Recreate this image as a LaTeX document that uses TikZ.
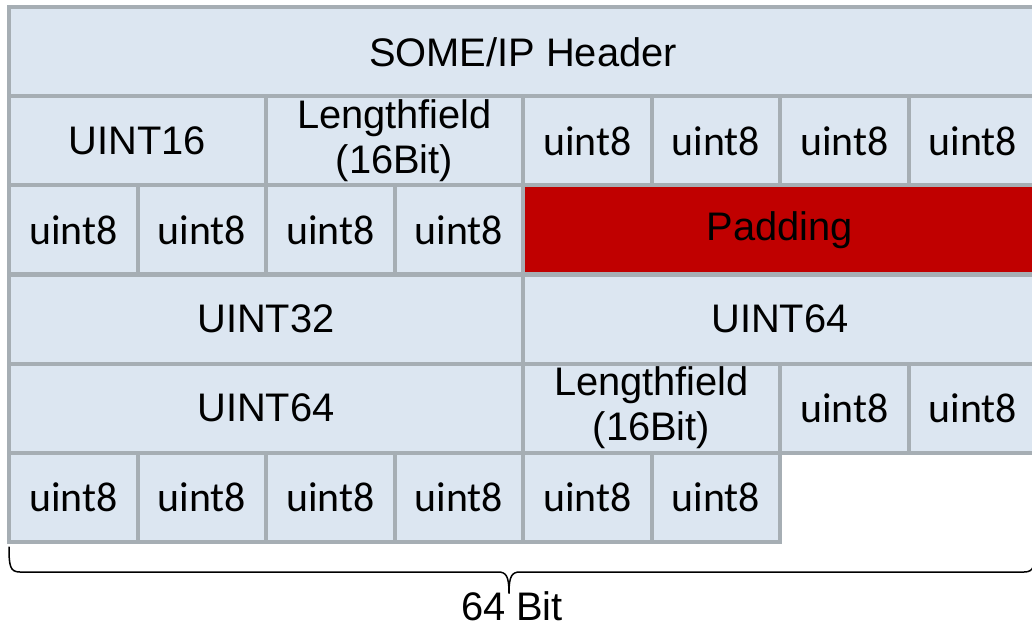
\documentclass[tikz,border=0pt]{standalone}
\usepackage{fontspec}
\setmainfont{Liberation Sans}
\newfontfamily\calfont{Carlito}
\definecolor{cellfill}{RGB}{220,230,241}
\definecolor{cellborder}{RGB}{166,174,180}
\definecolor{padred}{RGB}{192,0,0}
\begin{document}
\begin{tikzpicture}[x=1bp,y=-1bp,
  cell/.style={draw=cellborder, fill=cellfill, line width=4bp, inner sep=0pt,
    anchor=north west, minimum height=89bp, align=center,
    font=\fontsize{40}{45}\selectfont},
  w1/.style={minimum width=128.5bp},
  w2/.style={minimum width=257bp},
  w4/.style={minimum width=514bp},
  w8/.style={minimum width=1028bp},
  byte/.style={cell, w1, font=\calfont\fontsize{42}{44}\selectfont},
  padcell/.style={cell, w4, fill=padred},
  bracepath/.style={draw=black, line width=1.5bp, line cap=round, line join=round},
  lbl/.style={font=\fontsize{40}{43}\selectfont, inner sep=0pt}]
\useasboundingbox (0,0) rectangle (1032,626);
\clip (0,0) rectangle (1032,626);
% row 0
\node[cell, w8] (hdr) at (7,5.5) {SOME/IP Header};
% row 1
\node[cell, w2] (u16) at (7,94.5) {UINT16};
\node[cell, w2] (len1) at (264,94.5) {Lengthfield\\(16Bit)};
\node[byte] (a1) at (521,94.5) {uint8};
\node[byte] (a2) at (649.5,94.5) {uint8};
\node[byte] (a3) at (778,94.5) {uint8};
\node[byte] (a4) at (906.5,94.5) {uint8};
% row 2
\node[byte] (b1) at (7,183.5) {uint8};
\node[byte] (b2) at (135.5,183.5) {uint8};
\node[byte] (b3) at (264,183.5) {uint8};
\node[byte] (b4) at (392.5,183.5) {uint8};
\node[padcell] (pad) at (521,183.5) {Padding};
% row 3
\node[cell, w4] (u32) at (7,272.5) {UINT32};
\node[cell, w4] (u64a) at (521,272.5) {UINT64};
% row 4
\node[cell, w4] (u64b) at (7,361.5) {UINT64};
\node[cell, w2] (len2) at (521,361.5) {Lengthfield\\(16Bit)};
\node[byte] (c1) at (778,361.5) {uint8};
\node[byte] (c2) at (906.5,361.5) {uint8};
% row 5
\node[byte] (d1) at (7,450.5) {uint8};
\node[byte] (d2) at (135.5,450.5) {uint8};
\node[byte] (d3) at (264,450.5) {uint8};
\node[byte] (d4) at (392.5,450.5) {uint8};
\node[byte] (d5) at (521,450.5) {uint8};
\node[byte] (d6) at (649.5,450.5) {uint8};
% brace
\coordinate (bl) at (9,547);
\coordinate (br) at (1035,547);
\coordinate (tip) at (509,593);
\draw[bracepath] (bl) .. controls (9,566) and (10,572) .. (20,572) -- (498,572)
  .. controls (506,572) and (509,576) .. (tip);
\draw[bracepath] (tip) .. controls (509,576) and (512,572) .. (520,572) -- (1024,572)
  .. controls (1034,572) and (1035,566) .. (br);
\node[lbl] (bits) at (512,606) {64 Bit};
\end{tikzpicture}
\end{document}
